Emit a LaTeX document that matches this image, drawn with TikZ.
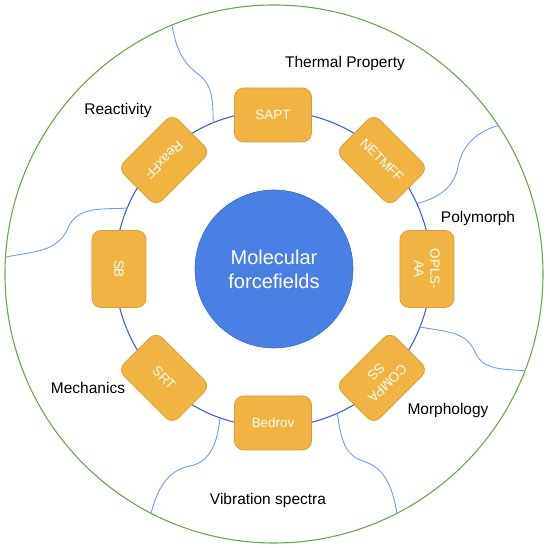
\documentclass[tikz,border=0pt]{standalone}
\usepackage{fontspec}
\setmainfont{Liberation Sans}
\usepackage{tikz}
\usepackage{xcolor}
\definecolor{rimc}{HTML}{6AA84F}
\definecolor{ringc}{HTML}{3D64C8}
\definecolor{seamc}{HTML}{6D9EEB}
\definecolor{corec}{HTML}{4880E4}
\definecolor{ffc}{HTML}{F1B443}
\definecolor{ffline}{HTML}{D69E32}
\tikzset{
  rimline/.style={draw=rimc, line width=1.1pt},
  ringline/.style={draw=ringc, line width=1.1pt},
  seamline/.style={draw=seamc, line width=0.9pt},
  corenode/.style={circle, fill=corec, draw=corec!85!black, line width=0.6pt, minimum size=158pt, inner sep=0pt, text=white, align=center, font=\fontsize{20}{24}\selectfont},
  ffbox/.style={rectangle, rounded corners=9pt, fill=ffc, draw=ffline, line width=0.7pt, minimum width=77pt, minimum height=54pt, inner sep=1pt, text=white, align=center, font=\fontsize{13.4}{16}\selectfont},
  topiclabel/.style={font=\fontsize{15.5}{18}\selectfont, text=black},
}

\begin{document}
\begin{tikzpicture}[x=1pt,y=1pt]
\useasboundingbox (-274,-274) rectangle (276,274);
\coordinate (o) at (0,0);
\coordinate (rc) at (-1,5);
\draw[rimline] (o) circle (269);
\draw[ringline] (rc) circle (158);
% seams between the topics
\coordinate (s1) at ([shift={(112.2:158)}]rc);
\coordinate (s2) at ([shift={(24.5:158)}]rc);
\coordinate (s3) at ([shift={(-21.5:158)}]rc);
\coordinate (s4) at ([shift={(-66:158)}]rc);
\coordinate (s5) at ([shift={(-109.6:158)}]rc);
\coordinate (s6) at ([shift={(157.3:158)}]rc);
\coordinate (m1) at (-76,200);
\coordinate (m2) at (184,107);
\coordinate (m3) at (201,-78);
\coordinate (m4) at (89,-187);
\coordinate (m5) at (-84,-192);
\coordinate (m6) at (-206,46);
\coordinate (e1) at (112.3:269);
\coordinate (e2) at (33.5:269);
\coordinate (e3) at (-21.1:269);
\coordinate (e4) at (-62.8:269);
\coordinate (e5) at (-117.2:269);
\coordinate (e6) at (176.4:269);
\draw[seamline] (s1) to[out=92,in=-37] (m1) to[out=143,in=-79] (e1);
\draw[seamline] (s2) to[out=14,in=-101] (m2) to[out=79,in=196] (e2);
\draw[seamline] (s3) to[out=-12,in=113] (m3) to[out=-67,in=174] (e3);
\draw[seamline] (s4) to[out=-81,in=163] (m4) to[out=-17,in=100] (e4);
\draw[seamline] (s5) to[out=-96,in=11] (m5) to[out=191,in=75] (e5);
\draw[seamline] (s6) to[out=184,in=67] (m6) to[out=247,in=12] (e6);
% forcefield boxes on the ring
\node[ffbox] (sapt) at ([shift={(90:154)}]rc) {SAPT};
\node[ffbox, rotate=-45] (netmff) at ([shift={(45:154)}]rc) {NETMFF};
\node[ffbox, rotate=-90] (oplsaa) at ([shift={(0:154)}]rc) {OPLS-\\AA};
\node[ffbox, rotate=-135] (compass) at ([shift={(-45:154)}]rc) {COMPA\\SS};
\node[ffbox] (bedrov) at ([shift={(-90:154)}]rc) {Bedrov};
\node[ffbox, rotate=-45] (srt) at ([shift={(-135:154)}]rc) {SRT};
\node[ffbox, rotate=-90] (sb) at ([shift={(180:154)}]rc) {SB};
\node[ffbox, rotate=-135] (reaxff) at ([shift={(135:154)}]rc) {ReaxFF};
\node[corenode] (core) at (0,5) {Molecular\\forcefields};
% topics
\node[topiclabel] (thermal) at (71,211) {Thermal Property};
\node[topiclabel] (polymorph) at (204,56) {Polymorph};
\node[topiclabel] (morphology) at (174,-136) {Morphology};
\node[topiclabel] (vibration) at (-6,-226) {Vibration spectra};
\node[topiclabel] (mechanics) at (-186,-114) {Mechanics};
\node[topiclabel] (reactivity) at (-156,164) {Reactivity};
\end{tikzpicture}
\end{document}
